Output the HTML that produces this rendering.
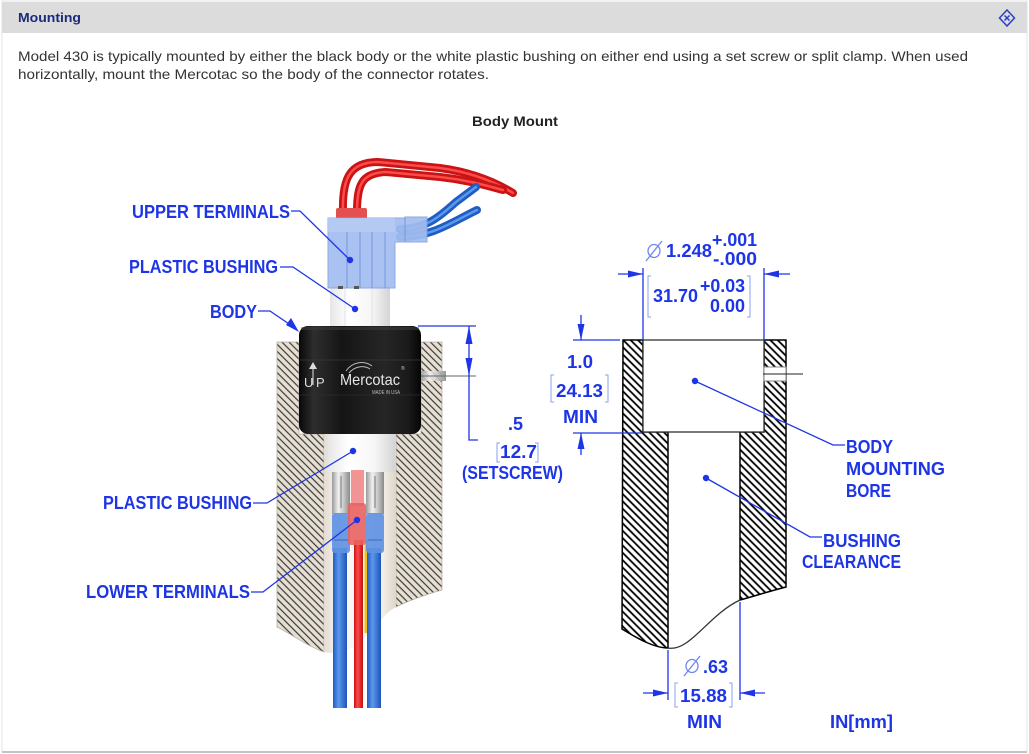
<!DOCTYPE html>
<html><head><meta charset="utf-8">
<style>
html,body{margin:0;padding:0;background:#fff;}
body{width:1029px;height:754px;overflow:hidden;position:relative;}
svg{position:absolute;left:0;top:0;display:block;}
</style></head><body>
<svg width="1029" height="754" viewBox="0 0 1029 754" xmlns="http://www.w3.org/2000/svg" font-family="'Liberation Sans', Arial, sans-serif">
<defs>
 <pattern id="hatchL" patternUnits="userSpaceOnUse" width="5" height="5" patternTransform="rotate(-45)">
   <rect width="5" height="5" fill="#e6dfd4"/>
   <line x1="2.5" y1="-1" x2="2.5" y2="6" stroke="#3c3936" stroke-width="1.2"/>
 </pattern>
 <pattern id="hatchR" patternUnits="userSpaceOnUse" width="5.2" height="5.2" patternTransform="rotate(-45)">
   <rect width="5.2" height="5.2" fill="#fff"/>
   <line x1="2.6" y1="-1" x2="2.6" y2="6.2" stroke="#000" stroke-width="1.8"/>
 </pattern>
 <linearGradient id="bore" x1="0" x2="1" y1="0" y2="0">
   <stop offset="0" stop-color="#e2dbd0"/><stop offset="0.18" stop-color="#f5f2ee"/>
   <stop offset="0.5" stop-color="#fbfaf8"/><stop offset="0.82" stop-color="#f2eee8"/>
   <stop offset="1" stop-color="#ddd5c9"/>
 </linearGradient>
 <linearGradient id="white" x1="0" x2="1" y1="0" y2="0">
   <stop offset="0" stop-color="#e6e6e6"/><stop offset="0.3" stop-color="#ffffff"/>
   <stop offset="0.7" stop-color="#f6f6f6"/><stop offset="1" stop-color="#d4d4d4"/>
 </linearGradient>
 <linearGradient id="metal" x1="0" x2="1" y1="0" y2="0">
   <stop offset="0" stop-color="#9a9a9a"/><stop offset="0.35" stop-color="#f0f0f0"/>
   <stop offset="0.65" stop-color="#c8c8c8"/><stop offset="1" stop-color="#8a8a8a"/>
 </linearGradient>
 <linearGradient id="blk" x1="0" x2="1" y1="0" y2="0">
   <stop offset="0" stop-color="#080808"/><stop offset="0.12" stop-color="#2e2e2e"/>
   <stop offset="0.35" stop-color="#151515"/><stop offset="0.7" stop-color="#262626"/>
   <stop offset="0.9" stop-color="#1a1a1a"/><stop offset="1" stop-color="#050505"/>
 </linearGradient>
 <linearGradient id="bw" x1="0" x2="1" y1="0" y2="0">
   <stop offset="0" stop-color="#1f5cc4"/><stop offset="0.4" stop-color="#5c98ec"/>
   <stop offset="1" stop-color="#1c54b8"/>
 </linearGradient>
 <linearGradient id="rw" x1="0" x2="1" y1="0" y2="0">
   <stop offset="0" stop-color="#c81010"/><stop offset="0.4" stop-color="#ff4a4a"/>
   <stop offset="1" stop-color="#c01010"/>
 </linearGradient>
</defs>

<!-- frame -->
<rect x="2" y="1" width="1025" height="751" fill="#fff" stroke="#e6e6e6" stroke-width="1"/>
<line x1="2" y1="752" x2="1027" y2="752" stroke="#c4c4c4" stroke-width="2"/>
<rect x="2" y="2" width="1025" height="31" fill="#dcdcdc"/>
<text x="18" y="22" font-size="13" font-weight="bold" fill="#1b2a7a" textLength="63" lengthAdjust="spacingAndGlyphs">Mounting</text>
<g stroke="#2a40c8" stroke-width="1.5" fill="none">
 <path d="M1007,10 L1014.5,18 L1007,26 L999.5,18 Z"/>
 <path d="M1004.5,15.5 L1009.5,20.5 M1009.5,15.5 L1004.5,20.5"/>
</g>

<text x="18" y="61" font-size="14" fill="#333" textLength="950" lengthAdjust="spacingAndGlyphs">Model 430 is typically mounted by either the black body or the white plastic bushing on either end using a set screw or split clamp. When used</text>
<text x="18" y="79" font-size="14" fill="#333" textLength="471" lengthAdjust="spacingAndGlyphs">horizontally, mount the Mercotac so the body of the connector rotates.</text>
<text x="472" y="126" font-size="14" font-weight="bold" fill="#222" textLength="86" lengthAdjust="spacingAndGlyphs">Body Mount</text>

<!-- ===== LEFT ILLUSTRATION ===== -->
<path d="M277,342 H299 V434 H324 V652 C305,645 290,633 277,627 Z" fill="url(#hatchL)" stroke="#b8afa3" stroke-width="0.8"/>
<path d="M421,342 H442 V590 C428,594 410,600 396,607 V434 H421 Z" fill="url(#hatchL)" stroke="#b8afa3" stroke-width="0.8"/>
<path d="M324,434 H396 V607 C380,615 372,638 348,650 C338,654 330,653 324,652 Z" fill="url(#bore)"/>

<!-- lower bushing -->
<rect x="328" y="434" width="67" height="38" fill="url(#white)"/>
<!-- crimps -->
<rect x="332" y="472" width="18" height="42" fill="url(#metal)"/>
<rect x="366" y="472" width="18" height="42" fill="url(#metal)"/>
<line x1="341" y1="476" x2="341" y2="508" stroke="#777" stroke-width="1"/>
<line x1="375" y1="476" x2="375" y2="508" stroke="#777" stroke-width="1"/>
<rect x="351" y="470" width="13" height="36" fill="#f07a7a" opacity="0.8"/>
<!-- wires lower -->
<rect x="333" y="548" width="14" height="160" fill="url(#bw)"/>
<rect x="354" y="540" width="9" height="168" fill="url(#rw)"/>
<rect x="364.5" y="540" width="3" height="93" fill="#f2c21a"/>
<rect x="367" y="548" width="14" height="160" fill="url(#bw)"/>
<!-- terminals -->
<rect x="332" y="513" width="18" height="40" rx="3" fill="#5f91e2" opacity="0.92"/>
<rect x="366" y="513" width="18" height="40" rx="3" fill="#5f91e2" opacity="0.92"/>
<line x1="334" y1="540" x2="348" y2="540" stroke="#3a6ac0" stroke-width="1"/>
<line x1="368" y1="540" x2="382" y2="540" stroke="#3a6ac0" stroke-width="1"/>
<rect x="348" y="503" width="18" height="42" rx="3" fill="#e96262" opacity="0.9"/>

<!-- red wires upper -->
<g fill="none" stroke-linecap="round">
 <path d="M343,212 C342,178 350,162 378,162 L 440,168 C470,172 495,182 513,193" stroke="#c81414" stroke-width="8"/>
 <path d="M343,212 C342,178 350,162 378,162 L 440,168 C470,172 495,182 513,193" stroke="#ff4a4a" stroke-width="2.5"/>
 <path d="M357,212 C357,184 362,173 386,172 L 440,177 C468,180 488,186 503,190" stroke="#c81414" stroke-width="8"/>
 <path d="M357,212 C357,184 362,173 386,172 L 440,177 C468,180 488,186 503,190" stroke="#ff4a4a" stroke-width="2.5"/>
</g>
<!-- blue wires upper -->
<g fill="none" stroke-linecap="round">
 <path d="M400,229 C428,229 442,214 456,202 L 476,187" stroke="#1f5cc4" stroke-width="8"/>
 <path d="M400,229 C428,229 442,214 456,202 L 476,187" stroke="#5c98ec" stroke-width="2.5"/>
 <path d="M400,237 C432,237 452,222 477,210" stroke="#1f5cc4" stroke-width="8"/>
 <path d="M400,237 C432,237 452,222 477,210" stroke="#5c98ec" stroke-width="2.5"/>
</g>
<!-- red collar -->
<rect x="336" y="208" width="31" height="11" rx="2" fill="#e25050"/>
<!-- upper bushing -->
<rect x="330" y="286" width="60" height="42" fill="url(#white)"/>
<line x1="345" y1="288" x2="345" y2="326" stroke="#e2e2e2"/>
<line x1="372" y1="288" x2="372" y2="326" stroke="#e2e2e2"/>
<!-- blue terminal block -->
<path d="M328,218 H405 V217 H427 V242 H395 V288 H328 Z" fill="#a3bdf0" opacity="0.92" stroke="#86a2e0" stroke-width="1"/>
<rect x="328" y="218" width="67" height="14" fill="#b7ccf4" opacity="0.8"/>
<g stroke="#7f9ddf" stroke-width="1.2">
 <line x1="347" y1="232" x2="347" y2="288"/>
 <line x1="360" y1="232" x2="360" y2="288"/>
 <line x1="372" y1="232" x2="372" y2="288"/>
 <line x1="385" y1="232" x2="385" y2="288"/>
 <line x1="405" y1="217" x2="405" y2="242"/>
</g>
<rect x="338" y="286" width="5" height="3" fill="#555"/>
<rect x="354" y="286" width="5" height="3" fill="#555"/>

<!-- body -->
<rect x="299" y="326" width="122" height="108" rx="9" fill="url(#blk)"/>
<rect x="301" y="327" width="118" height="3" rx="2" fill="#3a3a3a" opacity="0.6"/>
<line x1="300" y1="360" x2="420" y2="360" stroke="#3a3a3a" stroke-width="0.8"/>
<line x1="300" y1="395" x2="420" y2="395" stroke="#2e2e2e" stroke-width="0.8"/>
<!-- UP -->
<polygon points="313,362 309,369 317,369" fill="#ddd"/>
<line x1="313" y1="368" x2="313" y2="385" stroke="#ddd" stroke-width="1"/>
<text x="304" y="387" font-size="13" fill="#ddd">U</text>
<text x="316" y="387" font-size="13" fill="#ddd">P</text>
<!-- Mercotac logo -->
<path d="M346,371 C352,362 364,360 372,366" stroke="#bbb" stroke-width="1" fill="none"/>
<path d="M349,373 C355,366 364,365 370,369" stroke="#bbb" stroke-width="1" fill="none"/>
<text x="340" y="385" font-size="16" fill="#e6e6e6" textLength="60" lengthAdjust="spacingAndGlyphs">Mercotac</text>
<text x="401" y="370" font-size="5" fill="#ccc">®</text>
<text x="372" y="394" font-size="5.5" fill="#bbb" textLength="28" lengthAdjust="spacingAndGlyphs">MADE IN USA</text>

<!-- setscrew -->
<rect x="421" y="371" width="25" height="10" fill="url(#metal)" opacity="0.9"/>
<line x1="421" y1="376" x2="476" y2="376" stroke="#666" stroke-width="1"/>

<!-- left dims -->
<g stroke="#1d35e6" stroke-width="1.3" fill="none">
 <line x1="418" y1="326" x2="476" y2="326"/>
 <polyline points="469,326 469,440 478,440"/>
</g>
<g fill="#1d35e6">
 <polygon points="469,326 465.5,344 472.5,344"/>
 <polygon points="469,376 465.5,358 472.5,358"/>
</g>
<g stroke="#8aa0f0" stroke-width="1" fill="none">
 <path d="M500,443 H497 V462 H500"/>
 <path d="M535,443 H538 V462 H535"/>
</g>
<g font-size="18" font-weight="bold" fill="#1d35e6">
 <text x="508" y="430" textLength="15" lengthAdjust="spacingAndGlyphs">.5</text>
 <text x="500" y="458" textLength="37" lengthAdjust="spacingAndGlyphs">12.7</text>
 <text x="462" y="479" textLength="101" lengthAdjust="spacingAndGlyphs">(SETSCREW)</text>
</g>

<!-- left leaders -->
<g stroke="#1d35e6" stroke-width="1.3" fill="none">
 <polyline points="291,211 300,211 350,260"/>
 <polyline points="280,267 293,267 355,309"/>
 <polyline points="258,311 270,311 292,326"/>
 <polyline points="253,503 267,503 353,451"/>
 <polyline points="251,592 263,592 357,520"/>
</g>
<g fill="#1d35e6">
 <circle cx="350" cy="260" r="3.2"/>
 <circle cx="355" cy="309" r="3.2"/>
 <circle cx="353" cy="451" r="3.2"/>
 <circle cx="357" cy="520" r="3.2"/>
 <polygon points="299,332 286,325 291,318"/>
</g>
<g font-size="18" font-weight="bold" fill="#1d35e6">
 <text x="132" y="218" textLength="158" lengthAdjust="spacingAndGlyphs">UPPER TERMINALS</text>
 <text x="129" y="273" textLength="149" lengthAdjust="spacingAndGlyphs">PLASTIC BUSHING</text>
 <text x="210" y="318" textLength="47" lengthAdjust="spacingAndGlyphs">BODY</text>
 <text x="103" y="509" textLength="149" lengthAdjust="spacingAndGlyphs">PLASTIC BUSHING</text>
 <text x="86" y="598" textLength="164" lengthAdjust="spacingAndGlyphs">LOWER TERMINALS</text>
</g>

<!-- ===== RIGHT DRAWING ===== -->
<path d="M623,340 H643 V432 H668 V648 C655,648 640,640 622,629 Z" fill="url(#hatchR)" stroke="#000" stroke-width="1.5"/>
<path d="M764,340 H786 V587 C770,591 755,596 740,600 V432 H764 Z" fill="url(#hatchR)" stroke="#000" stroke-width="1.5"/>
<rect x="643" y="340" width="121" height="92" fill="#fff" stroke="#333" stroke-width="1.3"/>
<path d="M668,648 C690,652 708,615 740,600" fill="none" stroke="#333" stroke-width="1.3"/>
<rect x="764" y="367" width="22" height="14" fill="#fff" stroke="#888" stroke-width="1"/>
<line x1="763" y1="374" x2="803" y2="374" stroke="#222" stroke-width="0.9"/>

<!-- right dims -->
<g stroke="#1d35e6" stroke-width="1.3" fill="none">
 <line x1="643" y1="268" x2="643" y2="340"/>
 <line x1="764" y1="268" x2="764" y2="340"/>
 <line x1="618" y1="274" x2="643" y2="274"/>
 <line x1="764" y1="274" x2="790" y2="274"/>
 <line x1="573" y1="340" x2="620" y2="340"/>
 <line x1="573" y1="433" x2="642" y2="433"/>
 <line x1="581" y1="315" x2="581" y2="340"/>
 <line x1="581" y1="433" x2="581" y2="455"/>
 <line x1="668" y1="650" x2="668" y2="700"/>
 <line x1="740" y1="602" x2="740" y2="700"/>
 <line x1="643" y1="693" x2="668" y2="693"/>
 <line x1="740" y1="693" x2="765" y2="693"/>
 <polyline points="695,381 833,445 845,445"/>
 <polyline points="706,478 810,537 822,537"/>
</g>
<g fill="#1d35e6">
 <polygon points="643,274 628,270.5 628,277.5"/>
 <polygon points="764,274 779,270.5 779,277.5"/>
 <polygon points="581,340 577.5,324 584.5,324"/>
 <polygon points="581,433 577.5,449 584.5,449"/>
 <polygon points="668,693 653,689.5 653,696.5"/>
 <polygon points="740,693 755,689.5 755,696.5"/>
 <circle cx="695" cy="381" r="3.2"/>
 <circle cx="706" cy="478" r="3.2"/>
</g>
<!-- diameter symbols -->
<g stroke="#6f86f0" stroke-width="1.3" fill="none">
 <ellipse cx="654" cy="251" rx="6" ry="6.5"/>
 <line x1="646" y1="261" x2="662" y2="241"/>
 <ellipse cx="692" cy="666" rx="6" ry="6.5"/>
 <line x1="684" y1="676" x2="700" y2="656"/>
</g>
<!-- brackets -->
<g stroke="#8aa0f0" stroke-width="1" fill="none">
 <path d="M651,276 H648 V317 H651"/>
 <path d="M747,276 H750 V317 H747"/>
 <path d="M554,375 H551 V402 H554"/>
 <path d="M605,375 H608 V402 H605"/>
 <path d="M678,683 H675 V707 H678"/>
 <path d="M729,683 H732 V707 H729"/>
</g>
<g font-size="18" font-weight="bold" fill="#1d35e6">
 <text x="666" y="257" textLength="46" lengthAdjust="spacingAndGlyphs">1.248</text>
 <text x="712" y="246" textLength="45" lengthAdjust="spacingAndGlyphs">+.001</text>
 <text x="713" y="265" textLength="44" lengthAdjust="spacingAndGlyphs">-.000</text>
 <text x="653" y="302" textLength="45" lengthAdjust="spacingAndGlyphs">31.70</text>
 <text x="700" y="292" textLength="45" lengthAdjust="spacingAndGlyphs">+0.03</text>
 <text x="710" y="312" textLength="35" lengthAdjust="spacingAndGlyphs">0.00</text>
 <text x="567" y="368" textLength="26" lengthAdjust="spacingAndGlyphs">1.0</text>
 <text x="556" y="397" textLength="47" lengthAdjust="spacingAndGlyphs">24.13</text>
 <text x="563" y="423" textLength="35" lengthAdjust="spacingAndGlyphs">MIN</text>
 <text x="703" y="673" textLength="25" lengthAdjust="spacingAndGlyphs">.63</text>
 <text x="680" y="702" textLength="47" lengthAdjust="spacingAndGlyphs">15.88</text>
 <text x="687" y="728" textLength="35" lengthAdjust="spacingAndGlyphs">MIN</text>
 <text x="830" y="728" textLength="63" lengthAdjust="spacingAndGlyphs">IN[mm]</text>
 <text x="846" y="453" textLength="47" lengthAdjust="spacingAndGlyphs">BODY</text>
 <text x="846" y="475" textLength="99" lengthAdjust="spacingAndGlyphs">MOUNTING</text>
 <text x="846" y="497" textLength="45" lengthAdjust="spacingAndGlyphs">BORE</text>
 <text x="823" y="547" textLength="78" lengthAdjust="spacingAndGlyphs">BUSHING</text>
 <text x="802" y="568" textLength="99" lengthAdjust="spacingAndGlyphs">CLEARANCE</text>
</g>
</svg>
</body></html>
